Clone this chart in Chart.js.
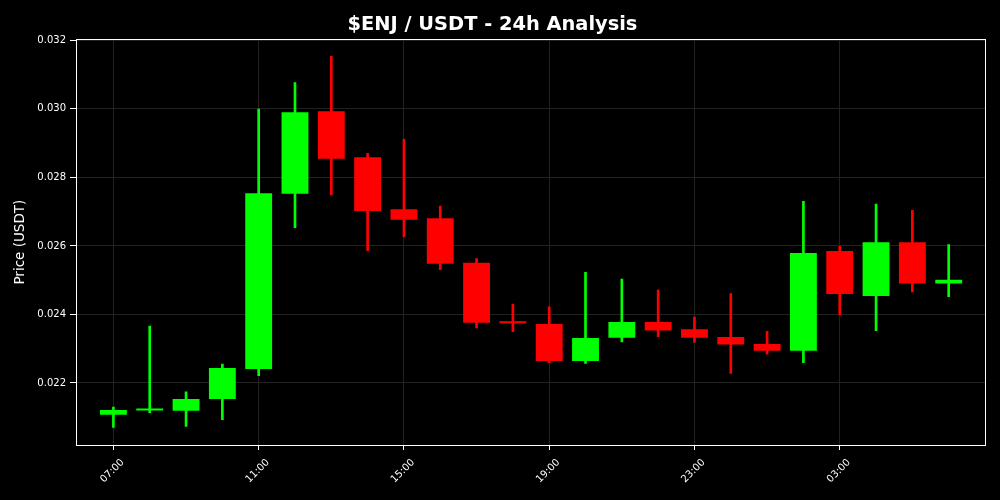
<!DOCTYPE html>
<html>
<head>
<meta charset="utf-8">
<script src="https://cdn.jsdelivr.net/npm/chart.js@4.4.0/dist/chart.umd.min.js"></script>
<style>
  html, body { margin: 0; padding: 0; background: #000; }
  #wrap { width: 1000px; height: 500px; }
</style>
</head>
<body>
<div id="wrap"><canvas id="graficoVelas"></canvas></div>
<script>
const hours = ["07:00", "08:00", "09:00", "10:00", "11:00", "12:00", "13:00", "14:00",
    "15:00", "16:00", "17:00", "18:00", "19:00", "20:00", "21:00", "22:00",
    "23:00", "00:00", "01:00", "02:00", "03:00", "04:00", "05:00", "06:00"];
const opens  = [0.02107, 0.02120, 0.02119, 0.02153, 0.02241, 0.02752, 0.02993, 0.02859,
    0.02707, 0.02681, 0.02551, 0.02377, 0.02372, 0.02264, 0.02332, 0.02378,
    0.02357, 0.02334, 0.02314, 0.02294, 0.02585, 0.02454, 0.02611, 0.02490];
const highs  = [0.02130, 0.02366, 0.02174, 0.02255, 0.02999, 0.03077, 0.03153, 0.02870,
    0.02911, 0.02716, 0.02563, 0.02430, 0.02422, 0.02523, 0.02503, 0.02471,
    0.02392, 0.02461, 0.02351, 0.02730, 0.02599, 0.02722, 0.02704, 0.02604];
const lows   = [0.02070, 0.02113, 0.02073, 0.02093, 0.02221, 0.02653, 0.02749, 0.02586,
    0.02627, 0.02531, 0.02361, 0.02350, 0.02259, 0.02257, 0.02320, 0.02335,
    0.02318, 0.02228, 0.02284, 0.02259, 0.02399, 0.02353, 0.02466, 0.02452];
const closes = [0.02121, 0.02122, 0.02153, 0.02244, 0.02754, 0.02990, 0.02854, 0.02702,
    0.02676, 0.02548, 0.02376, 0.02374, 0.02264, 0.02331, 0.02378, 0.02353,
    0.02332, 0.02312, 0.02294, 0.02579, 0.02460, 0.02611, 0.02490, 0.02501];
const xTicks = [0, 4, 8, 12, 16, 20];
const yTicks = [0.022, 0.024, 0.026, 0.028, 0.030, 0.032];

const cores = opens.map((o, i) => closes[i] >= o ? '#00ff00' : '#ff0000');

// moldura branca e rótulos do eixo x rodados a 45° (centrados no tick)
const moldura = {
    id: 'moldura',
    afterDraw(chart) {
        const a = chart.chartArea;
        const c = chart.ctx;
        const sx = chart.scales.x;
        c.save();
        c.strokeStyle = '#ffffff';
        c.lineWidth = 1;
        c.strokeRect(Math.round(a.left) + 0.5, Math.round(a.top) + 0.5,
            Math.round(a.right - a.left), Math.round(a.bottom - a.top));
        c.fillStyle = '#ffffff';
        c.font = '10px "DejaVu Sans"';
        c.textAlign = 'center';
        c.textBaseline = 'middle';
        xTicks.forEach(v => {
            c.save();
            c.translate(sx.getPixelForValue(v) - 1, a.bottom + 26);
            c.rotate(-Math.PI / 4);
            c.fillText(hours[v], 0, 0);
            c.restore();
        });
        c.restore();
    }
};

const ctx = document.getElementById('graficoVelas').getContext('2d');
const grafico = new Chart(ctx, {
    type: 'bar',
    data: {
        datasets: [
            {
                label: 'Pavio',
                data: lows.map((l, i) => ({ x: i, y: [l, highs[i]] })),
                backgroundColor: cores,
                barThickness: 2,
                grouped: false,
                order: 2
            },
            {
                label: 'Corpo',
                data: opens.map((o, i) => ({ x: i, y: [o, closes[i]] })),
                backgroundColor: cores,
                barPercentage: 0.74,
                categoryPercentage: 1,
                minBarLength: 2,
                grouped: false,
                order: 1
            }
        ]
    },
    options: {
        responsive: true,
        maintainAspectRatio: false,
        animation: false,
        layout: { padding: { left: 0, right: 15, top: 0, bottom: 0 } },
        plugins: {
            legend: { display: false },
            tooltip: { enabled: false },
            title: {
                display: true,
                text: '$ENJ / USDT - 24h Analysis',
                color: '#ffffff',
                font: { family: 'DejaVu Sans', size: 19.4, weight: 'bold' },
                padding: { top: 13, bottom: 3 }
            }
        },
        scales: {
            x: {
                type: 'linear',
                offset: false,
                min: -1.03,
                max: 24.0,
                afterBuildTicks: (s) => { s.ticks = xTicks.map(v => ({ value: v })); },
                afterFit: (s) => { s.height = 55; },
                ticks: {
                    color: 'rgba(0,0,0,0)',
                    font: { family: 'DejaVu Sans', size: 10 },
                    maxRotation: 0,
                    minRotation: 0,
                    callback: (v) => hours[v]
                },
                grid: { color: '#222222', tickColor: '#ffffff', tickLength: 5, offset: false },
                border: { color: '#ffffff' }
            },
            y: {
                min: 0.02019,
                max: 0.03203,
                afterBuildTicks: (s) => { s.ticks = yTicks.map(v => ({ value: v })); },
                afterFit: (s) => { s.width = 76; },
                ticks: {
                    color: '#ffffff',
                    font: { family: 'DejaVu Sans', size: 10 },
                    padding: 4,
                    callback: (v) => v.toFixed(3)
                },
                grid: { color: '#222222', tickColor: '#ffffff', tickLength: 6 },
                border: { color: '#ffffff' },
                title: {
                    display: true,
                    text: 'Price (USDT)',
                    color: '#ffffff',
                    font: { family: 'DejaVu Sans', size: 13.5 },
                    padding: { top: 12, bottom: 0 }
                }
            }
        }
    },
    plugins: [moldura]
});
</script>
</body>
</html>
